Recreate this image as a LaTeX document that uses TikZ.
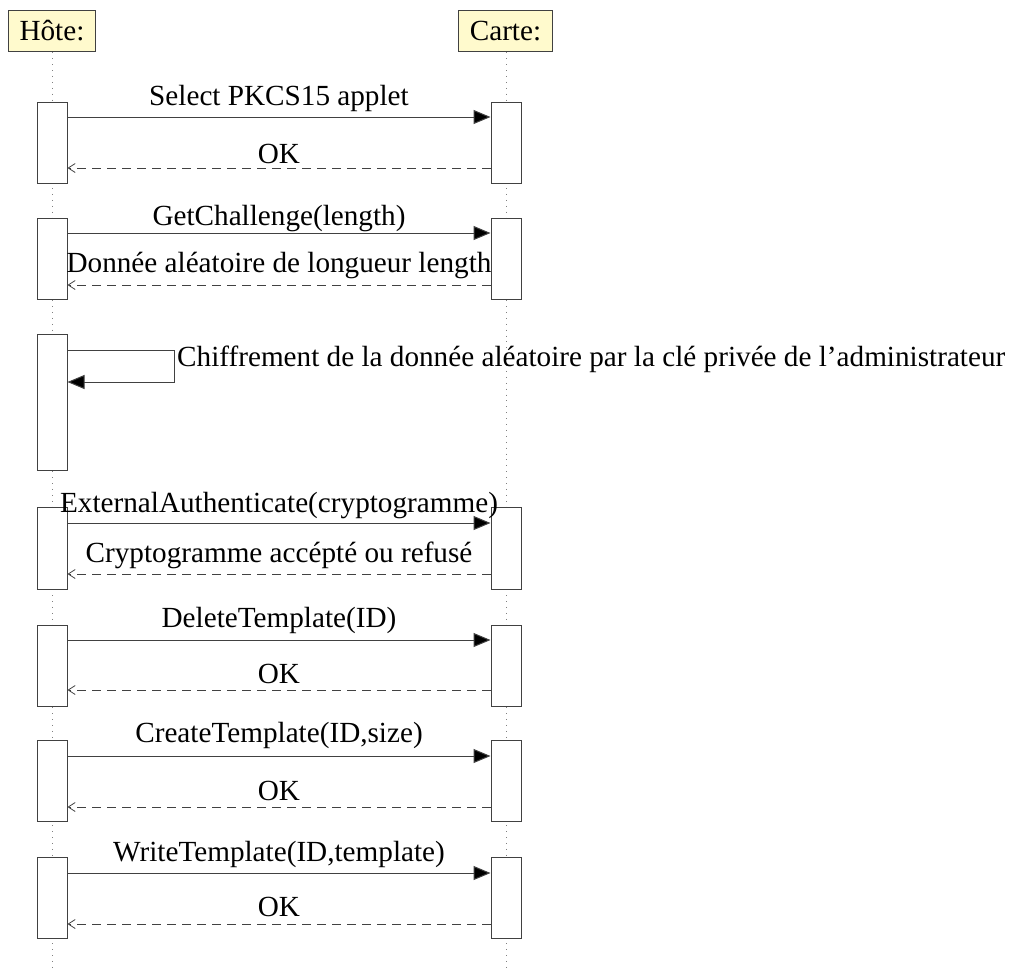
\documentclass[tikz,border=0pt]{standalone}
\usepackage{fontspec}
\setmainfont{Liberation Serif}
\usetikzlibrary{arrows.meta}
\definecolor{headfill}{RGB}{255,250,205}
\definecolor{linec}{RGB}{65,65,65}
\begin{document}
\begin{tikzpicture}[x=1pt,y=-1pt,
  every node/.style={font=\fontsize{29.2}{35}\selectfont},
  head/.style={draw=linec,line width=1pt,fill=headfill,minimum height=41.7pt,inner xsep=11pt,inner ysep=0pt},
  act/.style={draw=linec,line width=1pt,fill=white,minimum width=30pt,inner sep=0pt,anchor=north},
  life/.style={draw=gray,line width=0.7pt,dash pattern=on 0.9pt off 5pt},
  call/.style={draw=linec,line width=1pt,-{Triangle[length=17pt,width=14pt,fill=black]}},
  ret/.style={draw=linec,line width=1pt,dash pattern=on 9pt off 6pt,-{Straight Barb[length=7pt,width=9pt,line width=0.8pt]}},
  lbl/.style={anchor=base,inner sep=0pt}]
\useasboundingbox (0,0) rectangle (1011,972);
% headers
\node[head] (hote) at (52,31) {Hôte:};
\node[head] (carte) at (505.5,31) {Carte:};
\coordinate (hend) at (52,972);
\coordinate (cend) at (506,972);
\draw[life] (hote.south) -- (hend);
\draw[life] (carte.south -| cend) -- (cend);
% block 1
\node[act,minimum height=81pt] (h1) at (52,102) {};
\node[act,minimum height=81pt] (c1) at (506,102) {};
\draw[call] (h1.east |- 0,117) -- (c1.west |- 0,117);
\draw[ret] (c1.west |- 0,168) -- (h1.east |- 0,168);
\node[lbl] (l1a) at (279,105) {Select PKCS15 applet};
\node[lbl] (l1b) at (279,163) {OK};
% block 2
\node[act,minimum height=81pt] (h2) at (52,218) {};
\node[act,minimum height=81pt] (c2) at (506,218) {};
\draw[call] (h2.east |- 0,233) -- (c2.west |- 0,233);
\draw[ret] (c2.west |- 0,285) -- (h2.east |- 0,285);
\node[lbl] (l2a) at (279,225) {GetChallenge(length)};
\node[lbl] (l2b) at (279,272) {Donnée aléatoire de longueur length};
% block 3 (self call)
\node[act,minimum height=136pt] (h3) at (52,334) {};
\coordinate (s3) at (174,350);
\draw[call] (h3.east |- 0,350) -- (s3) |- (h3.east |- 0,382);
\node[lbl,anchor=base west] (l3) at (177,366) {Chiffrement de la donnée aléatoire par la clé privée de l’administrateur};
% block 4
\node[act,minimum height=82pt] (h4) at (52,507) {};
\node[act,minimum height=82pt] (c4) at (506,507) {};
\draw[call] (h4.east |- 0,523) -- (c4.west |- 0,523);
\draw[ret] (c4.west |- 0,574) -- (h4.east |- 0,574);
\node[lbl] (l4a) at (279,512) {ExternalAuthenticate(cryptogramme)};
\node[lbl] (l4b) at (279,562) {Cryptogramme accépté ou refusé};
% block 5
\node[act,minimum height=81pt] (h5) at (52,625) {};
\node[act,minimum height=81pt] (c5) at (506,625) {};
\draw[call] (h5.east |- 0,640) -- (c5.west |- 0,640);
\draw[ret] (c5.west |- 0,690) -- (h5.east |- 0,690);
\node[lbl] (l5a) at (279,627) {DeleteTemplate(ID)};
\node[lbl] (l5b) at (279,683) {OK};
% block 6
\node[act,minimum height=81pt] (h6) at (52,740) {};
\node[act,minimum height=81pt] (c6) at (506,740) {};
\draw[call] (h6.east |- 0,756) -- (c6.west |- 0,756);
\draw[ret] (c6.west |- 0,807) -- (h6.east |- 0,807);
\node[lbl] (l6a) at (279,742) {CreateTemplate(ID,size)};
\node[lbl] (l6b) at (279,800) {OK};
% block 7
\node[act,minimum height=81pt] (h7) at (52,857) {};
\node[act,minimum height=81pt] (c7) at (506,857) {};
\draw[call] (h7.east |- 0,873) -- (c7.west |- 0,873);
\draw[ret] (c7.west |- 0,924) -- (h7.east |- 0,924);
\node[lbl] (l7a) at (279,861) {WriteTemplate(ID,template)};
\node[lbl] (l7b) at (279,916) {OK};
\end{tikzpicture}
\end{document}
